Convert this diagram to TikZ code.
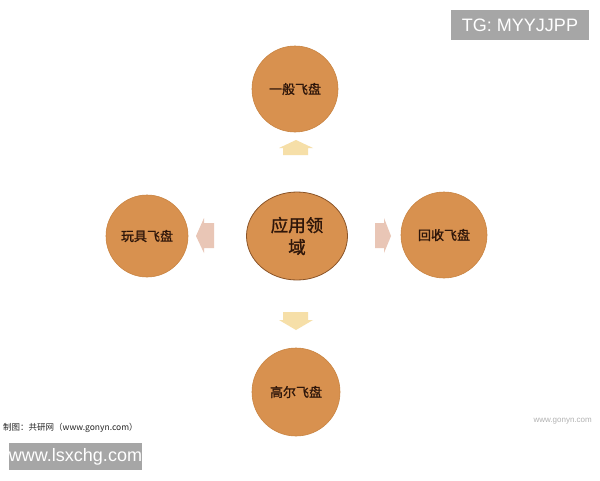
\documentclass[tikz,border=0pt]{standalone}
\usepackage{fontspec}
\setmainfont{Liberation Sans}
\newfontfamily\cjk{Noto Sans CJK SC}
\newfontfamily\cjkbold[FakeBold=1.2]{Noto Sans CJK SC}
\definecolor{disc}{HTML}{D8914F}
\definecolor{discedge}{HTML}{C98442}
\definecolor{centeredge}{HTML}{8A5428}
\definecolor{txt}{HTML}{2E160A}
\definecolor{arrowY}{HTML}{F6DFA8}
\definecolor{arrowP}{HTML}{E9C6B6}
\definecolor{boxgray}{HTML}{A6A6A6}
\tikzset{
  disk/.style={circle, fill=disc, draw=discedge, line width=0.6pt, minimum size=86pt, inner sep=0pt, font=\cjkbold\fontsize{13}{15}\selectfont, text=txt},
  hub/.style={ellipse, fill=disc, draw=centeredge, line width=0.8pt, minimum width=101pt, minimum height=88pt, inner sep=0pt, align=center, font=\cjkbold\fontsize{17.5}{22}\selectfont, text=txt},
  blockY/.style={fill=arrowY, draw=none},
  blockP/.style={fill=arrowP, draw=none},
  graybox/.style={fill=boxgray, text=white, inner sep=0pt, font=\fontsize{18}{20}\selectfont}
}
\usetikzlibrary{shapes.geometric}
\begin{document}
\begin{tikzpicture}[x=1pt,y=-1pt]
\useasboundingbox[fill=white] (0,0) rectangle (600,480);
% nodes
\node[hub] (center) at (297,236) {应用领\\域};
\node[disk] (top) at (295,89) {一般飞盘};
\node[disk, minimum size=82pt] (left) at (147,236) {玩具飞盘};
\node[disk] (right) at (444,235) {回收飞盘};
\node[disk, minimum size=88pt] (bottom) at (296,392) {高尔飞盘};
% block arrows
\fill[blockY] (296,140) -- (313,148) -- (308,148) -- (308,155) -- (283,155) -- (283,148) -- (279,148) -- cycle;
\fill[blockY] (296,330) -- (313,320) -- (308,320) -- (308,312) -- (283,312) -- (283,320) -- (279,320) -- cycle;
\fill[blockP] (196,236) -- (204,218) -- (204,223) -- (214,223) -- (214,248) -- (204,248) -- (204,253) -- cycle;
\fill[blockP] (391,236) -- (384,218) -- (384,223) -- (375,223) -- (375,248) -- (384,248) -- (384,253) -- cycle;
% labels and watermarks
\node[anchor=west, inner sep=0pt, font=\cjk\fontsize{8.5}{10}\selectfont, text=black!85] (caption) at (3,428) {制图：共研网（www.gonyn.com）};
\node[graybox, minimum width=133pt, minimum height=27pt] (site) at (75.5,456.5) {www.lsxchg.com};
\node[graybox, minimum width=138pt, minimum height=30pt] (tg) at (520,25) {TG: MYYJJPP};
\node[anchor=east, inner sep=0pt, font=\fontsize{8}{10}\selectfont, text=black!30] (wm) at (592,421) {www.gonyn.com};
\end{tikzpicture}
\end{document}
